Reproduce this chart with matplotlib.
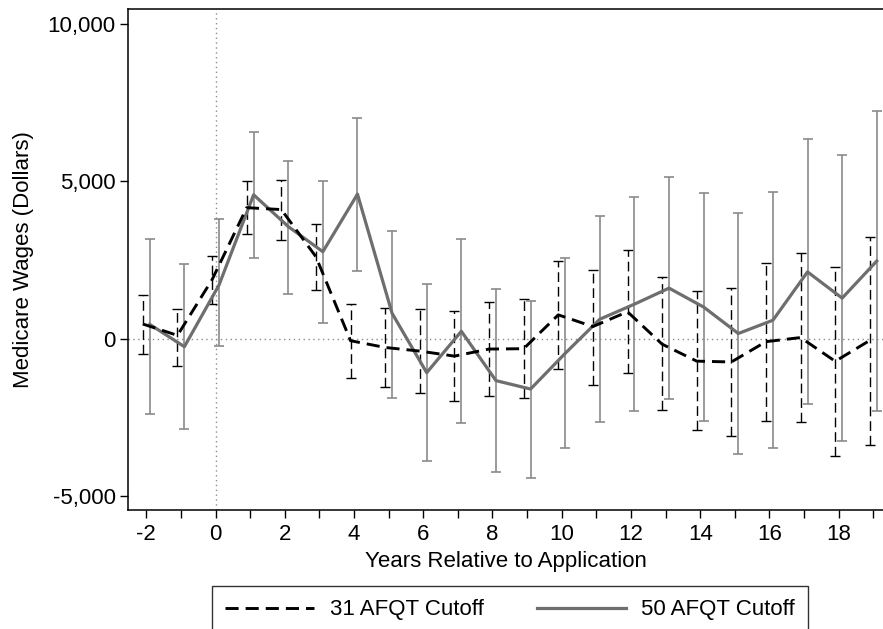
import numpy as np
import matplotlib.pyplot as plt

plt.rcParams['font.family'] = ['Liberation Sans', 'DejaVu Sans']

years = np.arange(-2, 20)

# 31 AFQT cutoff: point estimates and 95% CI
est31 = [461, 100, 1870, 4160, 4100, 2600, -70, -285, -400, -560, -335, -324,
         752, 380, 850, -180, -720, -746, -100, 30, -724, -60]
hi31 = [1372, 933, 2633, 5014, 5047, 3643, 1097, 977, 933, 867, 1152, 1251,
        2469, 2183, 2810, 1964, 1503, 1613, 2403, 2732, 2271, 3226]
lo31 = [-494, -889, 1086, 3314, 3127, 1536, -1240, -1547, -1734, -1986, -1821, -1898,
        -966, -1492, -1108, -2282, -2919, -3105, -2633, -2666, -3731, -3379]

# 50 AFQT cutoff
est50 = [450, -260, 1700, 4570, 3560, 2760, 4590, 800, -1086, 230, -1339, -1607,
         -472, 614, 1092, 1602, 999, 159, 581, 2118, 1284, 2463]
hi50 = [3149, 2359, 3807, 6572, 5651, 5014, 7022, 3423, 1723, 3149, 1580, 1207,
        2545, 3895, 4499, 5124, 4630, 3994, 4652, 6331, 5837, 7242]
lo50 = [-2392, -2886, -230, 2567, 1415, 494, 2140, -1876, -3895, -2688, -4257, -4422,
        -3489, -2666, -2315, -1920, -2633, -3676, -3489, -2096, -3270, -2315]

est31, hi31, lo31 = map(np.array, (est31, hi31, lo31))
est50, hi50, lo50 = map(np.array, (est50, hi50, lo50))

fig = plt.figure(figsize=(8.83, 6.29), dpi=100)
ax = fig.add_axes([128.3 / 883, 1 - 509.6 / 629, 1 - 128.3 / 883, (509.6 - 8.6) / 629])

ax.axhline(0, color='#8c8c8c', lw=1, ls=(0, (1, 2.5)), zorder=1)
ax.axvline(0, color='#8c8c8c', lw=1, ls=(0, (1, 2.5)), zorder=1)

x31 = years - 0.1
x50 = years + 0.1

eb = ax.errorbar(x31, est31, yerr=[est31 - lo31, hi31 - est31], fmt='none',
                 ecolor='black', elinewidth=1, capsize=3.3, capthick=1, zorder=2)
eb[2][0].set_linestyle((0, (7, 3.5)))
ax.plot(x31, est31, color='black', lw=2.1, ls=(0, (4.5, 2.4)), zorder=4,
        label='31 AFQT Cutoff')

ax.errorbar(x50, est50, yerr=[est50 - lo50, hi50 - est50], fmt='none',
            ecolor='#8a8a8a', elinewidth=1.2, capsize=3.3, capthick=1.2, zorder=2)
ax.plot(x50, est50, color='#6e6e6e', lw=2.3, zorder=3, label='50 AFQT Cutoff')

ax.set_xlim(-2.52, 19.28)
ax.set_ylim(-5440, 10490)
ax.set_xticks(np.arange(-2, 20))
ax.set_xticklabels([str(v) if v % 2 == 0 else '' for v in range(-2, 20)])
ax.set_yticks([-5000, 0, 5000, 10000])
ax.set_yticklabels(['-5,000', '0', '5,000', '10,000'])
ax.tick_params(axis='both', labelsize=16, length=5.5, width=1, direction='out',
               color='black')
ax.tick_params(axis='x', pad=5)
ax.spines['right'].set_visible(False)
for s in ('left', 'top', 'bottom'):
    ax.spines[s].set_linewidth(1.1)

ax.set_xlabel('Years Relative to Application', fontsize=16, labelpad=4)
ax.set_ylabel('Medicare Wages (Dollars)', fontsize=16, labelpad=10)

leg = fig.legend(loc='upper center', bbox_to_anchor=(510 / 883, 1 - 586 / 629),
                 ncol=2, fontsize=16, frameon=True, fancybox=False,
                 handlelength=4.0, handletextpad=0.7, columnspacing=2.4,
                 borderpad=0.6, borderaxespad=0)
leg.get_frame().set_edgecolor('black')
leg.get_frame().set_linewidth(1)

fig.savefig('out.png', dpi=100)
